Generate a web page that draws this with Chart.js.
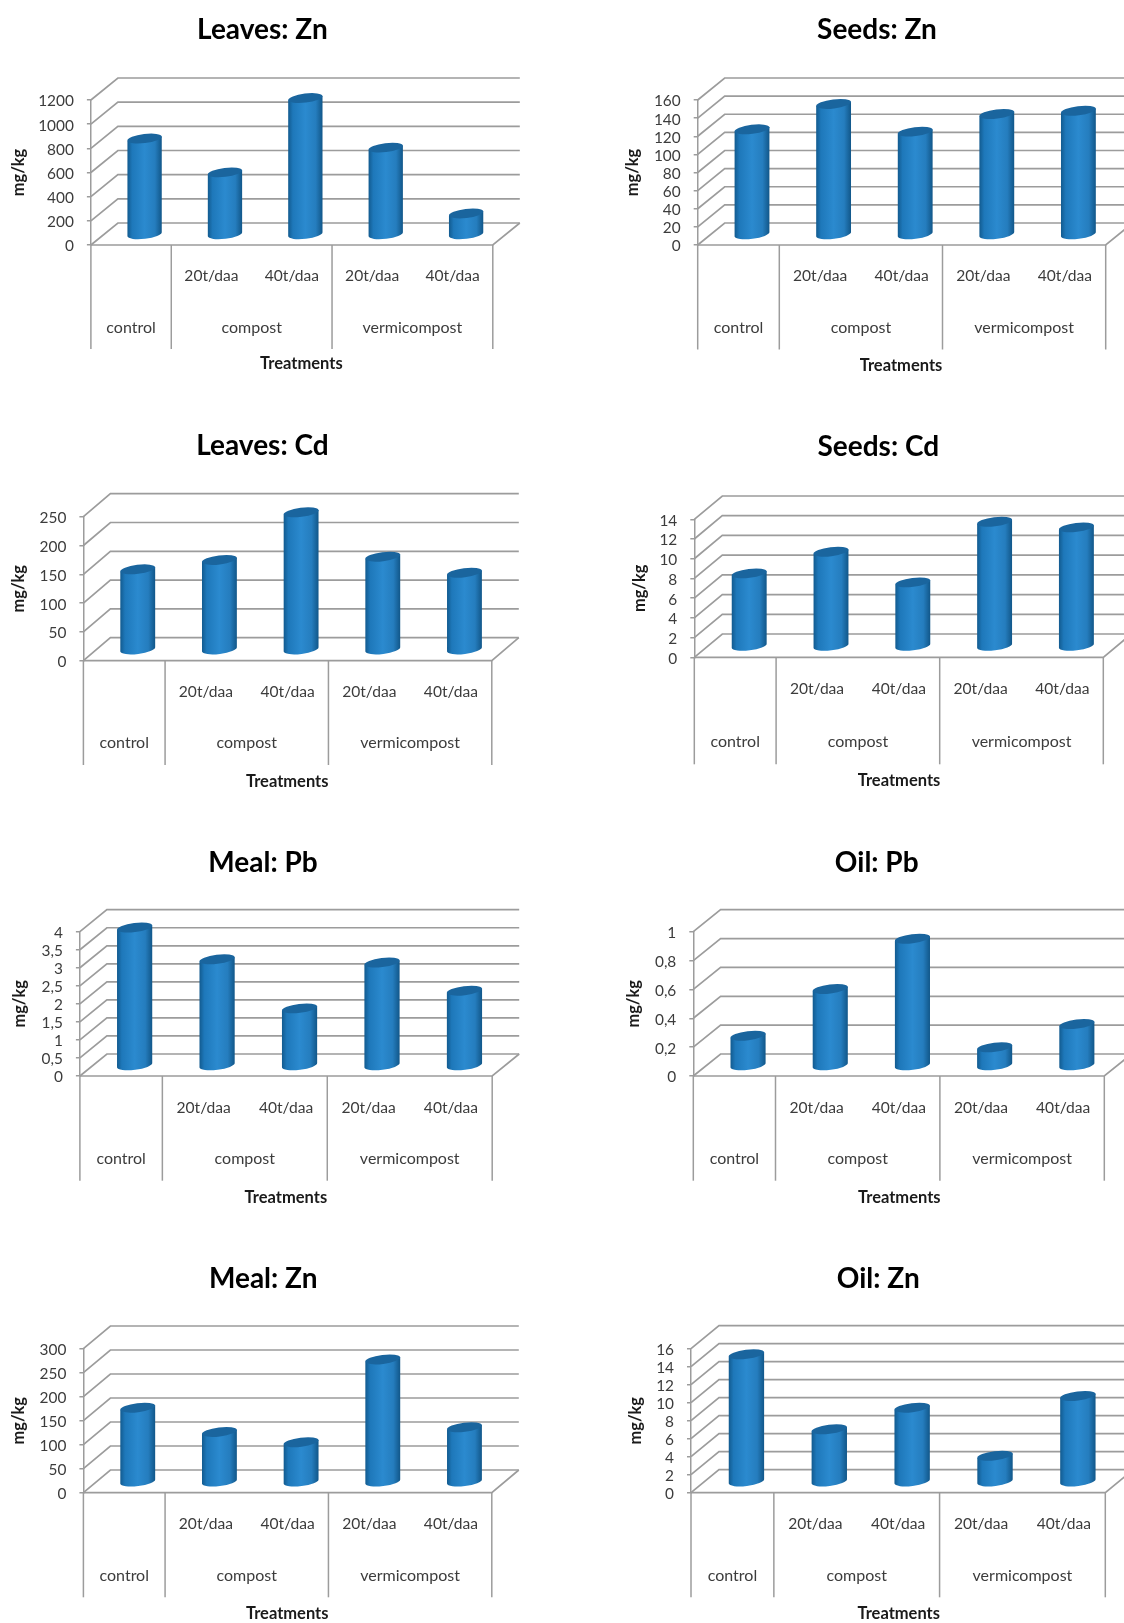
<!DOCTYPE html>
<html>
<head>
<meta charset="utf-8">
<title>Heavy metals by treatment</title>
<script src="https://cdn.jsdelivr.net/npm/chart.js@4/dist/chart.umd.js"></script>
<style>
  html, body { margin: 0; background: #fff; }
  #page { position: relative; width: 1124px; height: 1623px; overflow: hidden; background: #fff; }
  /* the source is a slightly soft scan */
  #page canvas { position: absolute; filter: blur(0.45px); }
</style>
</head>
<body>
<div id="page"></div>
<script>
// Data
const doseLabels = ['', '20t/daa', '40t/daa', '20t/daa', '40t/daa'];
const groupNames = ['control', 'compost', 'vermicompost'];
const groupSizes = [1, 2, 2];

const titles = ['Leaves: Zn', 'Seeds: Zn', 'Leaves: Cd', 'Seeds: Cd', 'Meal: Pb', 'Oil: Pb', 'Meal: Zn', 'Oil: Zn'];
const leavesZn = [790, 510, 1125, 715, 170];
const seedsZn = [115.5, 143.5, 113, 132.4, 136];
const leavesCd = [138.7, 155, 237.7, 160.6, 132.8];
const seedsCd = [7.33, 9.53, 6.42, 12.57, 12.0];
const mealPb = [3.81, 2.93, 1.57, 2.84, 2.06];
const oilPb = [0.203, 0.527, 0.875, 0.123, 0.284];
const mealZn = [153.5, 103, 81.5, 254, 112.7];
const oilZn = [14.1, 5.77, 8.17, 2.83, 9.47];
const seriesList = [leavesZn, seedsZn, leavesCd, seedsCd, mealPb, oilPb, mealZn, oilZn];
const yMaxes = [1200, 160, 250, 14, 4, 1, 300, 16];
const ySteps = [200, 20, 50, 2, 0.5, 0.2, 50, 2];

// Where each panel sits on the page
const frames = [
  { left: 90.9, right: 492.8, top: 100, bottom: 245, dx: 27, dy: 22, titleX: 262.4, titleY: 30, doseY: 276, groupY: 328, lineEnd: 349, treatX: 301.4, treatY: 364, yTitleX: 18.6 },
  { left: 697.7, right: 1105.7, top: 100, bottom: 245, dx: 27, dy: 22, titleX: 877, titleY: 30, doseY: 276, groupY: 328, lineEnd: 349.5, treatX: 901, treatY: 365.7, yTitleX: 633 },
  { left: 83.4, right: 491.8, top: 516.7, bottom: 660.7, dx: 27, dy: 23, titleX: 262.4, titleY: 446, doseY: 691.7, groupY: 743.3, lineEnd: 765, treatX: 287.2, treatY: 781.7, yTitleX: 18.9 },
  { left: 694.3, right: 1103.3, top: 519.3, bottom: 657.3, dx: 28, dy: 23.3, titleX: 878.3, titleY: 447, doseY: 689, groupY: 742.3, lineEnd: 764.3, treatX: 899, treatY: 780.7, yTitleX: 639.3 },
  { left: 79.9, right: 492.2, top: 931.7, bottom: 1076, dx: 27, dy: 22, titleX: 263, titleY: 862.7, doseY: 1107.7, groupY: 1159.3, lineEnd: 1180.7, treatX: 285.9, treatY: 1197.7, yTitleX: 19.9 },
  { left: 693.3, right: 1104.3, top: 931.7, bottom: 1076, dx: 27.3, dy: 22, titleX: 876.7, titleY: 862.7, doseY: 1107.3, groupY: 1159.3, lineEnd: 1180.7, treatX: 899.3, treatY: 1197.3, yTitleX: 634 },
  { left: 83.4, right: 491.8, top: 1348.7, bottom: 1492.7, dx: 27, dy: 22.7, titleX: 263.2, titleY: 1278.7, doseY: 1524, groupY: 1575.7, lineEnd: 1597.3, treatX: 287.2, treatY: 1613.3, yTitleX: 18.9 },
  { left: 691, right: 1105.3, top: 1348.7, bottom: 1492.7, dx: 28, dy: 23, titleX: 878.3, titleY: 1278.7, doseY: 1524, groupY: 1575.7, lineEnd: 1597.3, treatX: 898.7, treatY: 1613.3, yTitleX: 636 }
];

const GRID = '#9c9c9c';
const TEXT = '#3c3c3c';
const TILT = -7 * Math.PI / 180;
const CAP_RY = 4.5;

Chart.defaults.font.family = 'Lato';
Chart.defaults.animation = false;

// Bars are laid out by the normal bar controller, only the painting is different
class CylinderController extends Chart.BarController {
  draw() {
    const chart = this.chart;
    const ctx = chart.ctx;
    const { dx, dy } = chart.options.plugins.walls;
    this._cachedMeta.data.forEach(bar => {
      const cx = bar.x + dx / 2;
      const topY = bar.y - dy / 2;
      const baseY = bar.base - dy / 2 + 1;
      const rx = bar.width / 2;

      const fill = ctx.createLinearGradient(cx - rx, 0, cx + rx, 0);
      fill.addColorStop(0, '#125a8e');
      fill.addColorStop(0.14, '#1e78ba');
      fill.addColorStop(0.5, '#2b8acf');
      fill.addColorStop(0.8, '#257dbe');
      fill.addColorStop(1, '#115688');

      const ex = rx * Math.cos(TILT);
      const ey = rx * Math.sin(TILT);
      ctx.save();
      ctx.beginPath();
      ctx.ellipse(cx, baseY, rx, CAP_RY, TILT, 0, Math.PI);
      ctx.lineTo(cx - ex, topY - ey);
      ctx.lineTo(cx + ex, topY + ey);
      ctx.closePath();
      ctx.fillStyle = fill;
      ctx.fill();

      ctx.beginPath();
      ctx.ellipse(cx, topY, rx, CAP_RY, TILT, 0, Math.PI * 2);
      ctx.fillStyle = '#1a659e';
      ctx.fill();
      ctx.restore();
    });
  }
}
CylinderController.id = 'cylinder';
CylinderController.defaults = Chart.BarController.defaults;
Chart.register(CylinderController);

// Back wall, side wall, floor, the two-level axis lines and the free-standing texts
const wallsPlugin = {
  id: 'walls',
  beforeDatasetsDraw(chart, args, opts) {
    const { ctx, scales: { x, y } } = chart;
    const { dx, dy } = opts;
    ctx.save();
    ctx.strokeStyle = GRID;
    ctx.lineWidth = 1.7;
    y.ticks.forEach(tick => {
      const py = y.getPixelForValue(tick.value);
      ctx.beginPath();
      ctx.moveTo(x.left, py);
      ctx.lineTo(x.left + dx, py - dy);
      ctx.lineTo(x.right + dx, py - dy);
      ctx.stroke();
    });
    // front edge of the floor
    ctx.beginPath();
    ctx.moveTo(x.left, y.bottom);
    ctx.lineTo(x.right, y.bottom);
    ctx.lineTo(x.right + dx, y.bottom - dy);
    ctx.stroke();
    ctx.restore();
  },
  afterDraw(chart, args, opts) {
    const { ctx, scales: { x, y } } = chart;
    const catWidth = (x.right - x.left) / doseLabels.length;
    ctx.save();
    ctx.strokeStyle = GRID;
    ctx.lineWidth = 1.5;
    ctx.fillStyle = TEXT;
    ctx.font = '16px Lato';
    ctx.textAlign = 'center';
    ctx.textBaseline = 'middle';
    let cum = 0;
    const sep = v => {
      const px = x.left + v * catWidth;
      ctx.beginPath();
      ctx.moveTo(px, y.bottom);
      ctx.lineTo(px, opts.lineEnd);
      ctx.stroke();
    };
    sep(0);
    groupNames.forEach((name, i) => {
      const mid = cum + groupSizes[i] / 2;
      ctx.fillText(name, x.left + mid * catWidth, opts.groupY);
      cum += groupSizes[i];
      sep(cum);
    });
    ctx.font = 'bold 16.5px Lato';
    ctx.fillStyle = '#1a1a1a';
    ctx.fillText('Treatments', opts.treatX, opts.treatY);
    ctx.font = 'bold 28px Lato';
    ctx.fillStyle = '#000';
    ctx.fillText(opts.title, opts.titleX, opts.titleY);
    ctx.restore();
  }
};

const page = document.getElementById('page');

titles.forEach((title, i) => {
  const f = frames[i];
  const cLeft = f.titleX < 400 ? 0 : 610;
  const cTop = Math.round(f.titleY - 26);
  const width = Math.round(f.right + f.dx + 4 - cLeft);
  const height = Math.round(f.treatY + 16 - cTop);

  const canvas = document.createElement('canvas');
  canvas.width = width;
  canvas.height = height;
  canvas.style.left = cLeft + 'px';
  canvas.style.top = cTop + 'px';
  page.appendChild(canvas);

  new Chart(canvas, {
    type: 'cylinder',
    data: {
      labels: doseLabels,
      datasets: [{
        data: seriesList[i],
        categoryPercentage: 1,
        barPercentage: 0.43,
        clip: false
      }]
    },
    options: {
      responsive: false,
      maintainAspectRatio: false,
      layout: { padding: { left: 0, top: f.top - cTop, bottom: 0, right: cLeft + width - f.right } },
      scales: {
        x: {
          type: 'category',
          grid: { display: false, drawTicks: false },
          border: { display: false },
          ticks: {
            autoSkip: false,
            maxRotation: 0,
            color: TEXT,
            font: { size: 15.6 },
            padding: f.doseY - f.bottom - 9
          },
          afterFit: s => { s.height = height - (f.bottom - cTop); }
        },
        y: {
          type: 'linear',
          min: 0,
          max: yMaxes[i],
          afterFit: s => { s.width = f.left - cLeft; },
          grid: { drawOnChartArea: false, tickLength: 4, color: GRID, lineWidth: 1.5 },
          border: { color: GRID, width: 1.5 },
          ticks: {
            autoSkip: false,
            stepSize: ySteps[i],
            padding: 13,
            labelOffset: 1.5,
            color: TEXT,
            font: { size: 15.4 },
            callback: v => String(+v.toFixed(1)).replace('.', ',')
          },
          title: {
            display: true,
            text: 'mg/kg',
            color: '#1a1a1a',
            font: { size: 16.4, weight: 'bold' },
            padding: { top: f.yTitleX - cLeft - 9.8, bottom: 0 }
          }
        }
      },
      plugins: {
        legend: { display: false },
        tooltip: { enabled: false },
        walls: {
          dx: f.dx,
          dy: f.dy,
          title,
          titleX: f.titleX - cLeft,
          titleY: f.titleY - cTop,
          lineEnd: f.lineEnd - cTop,
          groupY: f.groupY - cTop,
          treatX: f.treatX - cLeft,
          treatY: f.treatY - cTop
        }
      }
    },
    plugins: [wallsPlugin]
  });
});
</script>
</body>
</html>
